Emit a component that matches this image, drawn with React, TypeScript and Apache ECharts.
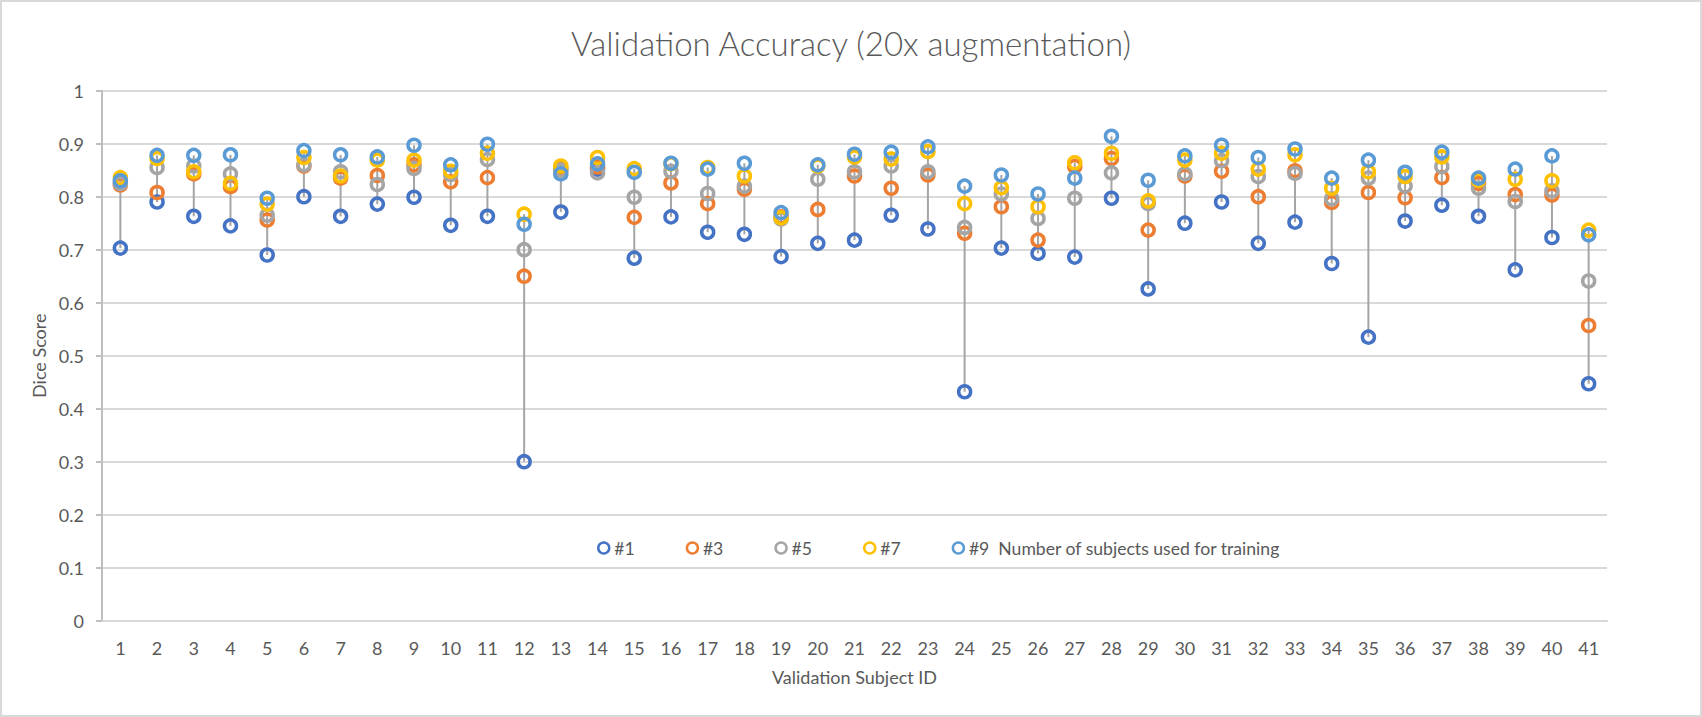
import React, { useEffect, useRef } from "react";
import * as echarts from "echarts";

const categories: string[] = Array.from({ length: 41 }, (_, i) => String(i + 1));

const seriesNames = ["#1", "#3", "#5", "#7", "#9"];
const seriesColors = ["#4472C4", "#ED7D31", "#A5A5A5", "#FFC000", "#5B9BD5"];

const s1 = [0.703, 0.790, 0.763, 0.745, 0.690, 0.800, 0.763, 0.786, 0.799, 0.746,
  0.763, 0.300, 0.771, 0.852, 0.684, 0.762, 0.733, 0.729, 0.687, 0.712,
  0.718, 0.765, 0.739, 0.432, 0.703, 0.693, 0.686, 0.797, 0.626, 0.750,
  0.790, 0.712, 0.752, 0.674, 0.535, 0.754, 0.784, 0.763, 0.662, 0.723, 0.447];
const s3 = [0.822, 0.808, 0.843, 0.819, 0.756, 0.858, 0.835, 0.840, 0.860, 0.828,
  0.836, 0.650, 0.853, 0.856, 0.761, 0.826, 0.787, 0.814, 0.762, 0.776,
  0.839, 0.816, 0.841, 0.731, 0.781, 0.718, 0.857, 0.872, 0.737, 0.839,
  0.848, 0.800, 0.849, 0.789, 0.808, 0.798, 0.836, 0.825, 0.804, 0.803, 0.557];
const s5 = [0.825, 0.855, 0.858, 0.843, 0.765, 0.860, 0.847, 0.823, 0.853, 0.842,
  0.870, 0.700, 0.850, 0.845, 0.799, 0.848, 0.806, 0.820, 0.758, 0.833,
  0.847, 0.858, 0.847, 0.742, 0.805, 0.759, 0.797, 0.845, 0.787, 0.843,
  0.868, 0.838, 0.844, 0.796, 0.835, 0.820, 0.857, 0.816, 0.791, 0.811, 0.641];
const s7 = [0.836, 0.872, 0.847, 0.825, 0.786, 0.874, 0.839, 0.869, 0.869, 0.848,
  0.882, 0.767, 0.858, 0.874, 0.853, 0.862, 0.855, 0.839, 0.760, 0.858,
  0.875, 0.871, 0.885, 0.787, 0.817, 0.781, 0.864, 0.882, 0.792, 0.869,
  0.882, 0.852, 0.879, 0.816, 0.847, 0.838, 0.875, 0.831, 0.833, 0.830, 0.737];
const s9 = [0.830, 0.878, 0.878, 0.879, 0.797, 0.887, 0.879, 0.875, 0.897, 0.860,
  0.899, 0.748, 0.843, 0.862, 0.846, 0.863, 0.852, 0.863, 0.770, 0.860,
  0.880, 0.884, 0.894, 0.820, 0.841, 0.805, 0.835, 0.914, 0.831, 0.877,
  0.897, 0.874, 0.890, 0.835, 0.869, 0.846, 0.884, 0.835, 0.852, 0.877, 0.728];

const allSeries = [s1, s3, s5, s7, s9];

const titleText = "Validation Accuracy (20x augmentation)";
const xAxisTitle = "Validation Subject ID";
const yAxisTitle = "Dice Score";
const legendNote = "Number of subjects used for training";

const FONT = "Lato, 'Open Sans', sans-serif";
const TEXT_COLOR = "#595959";

export default function App() {
  const ref = useRef<HTMLDivElement>(null);

  useEffect(() => {
    document.body.style.margin = "0";
    if (!ref.current) return;
    const chart = echarts.init(ref.current, undefined, { renderer: "svg" });

    const hiLo = categories.map((_, i) => {
      const vals = allSeries.map((s) => s[i]);
      return [i, Math.min(...vals), Math.max(...vals)];
    });

    const option: any = {
      animation: false,
      backgroundColor: "#ffffff",
      textStyle: { fontFamily: FONT },
      title: {
        text: titleText,
        left: "center",
        top: 19,
        textStyle: {
          fontFamily: FONT,
          fontSize: 33,
          fontWeight: 300,
          color: TEXT_COLOR,
        },
      },
      legend: {
        data: seriesNames,
        left: 590,
        top: 532,
        itemWidth: 11,
        itemHeight: 11,
        itemGap: 51,
        icon: "circle",
        itemStyle: { borderWidth: 2.5 },
        formatter: (name: string) => (name === "#9" ? name + "  " + legendNote : name),
        textStyle: { fontFamily: FONT, fontSize: 17.6, color: TEXT_COLOR },
      },
      grid: { left: 100, right: 93, top: 88.7, bottom: 94.3, containLabel: false },
      xAxis: {
        type: "category",
        data: categories,
        boundaryGap: true,
        name: xAxisTitle,
        nameLocation: "middle",
        nameGap: 47,
        nameTextStyle: { fontFamily: FONT, fontSize: 18, color: TEXT_COLOR },
        axisLine: { show: true, lineStyle: { color: "#d9d9d9", width: 2 } },
        axisTick: { show: false },
        axisLabel: { color: TEXT_COLOR, fontFamily: FONT, fontSize: 18, margin: 18, interval: 0 },
        splitLine: { show: false },
      },
      yAxis: {
        type: "value",
        min: 0,
        max: 1,
        interval: 0.1,
        name: yAxisTitle,
        nameLocation: "middle",
        nameGap: 49,
        nameRotate: 90,
        nameTextStyle: { fontFamily: FONT, fontSize: 18, color: TEXT_COLOR },
        axisLine: { show: true, lineStyle: { color: "#bfbfbf", width: 2 } },
        axisTick: { show: true, length: 6, lineStyle: { color: "#bfbfbf", width: 2 } },
        axisLabel: { color: TEXT_COLOR, fontFamily: FONT, fontSize: 18, margin: 18 },
        splitLine: { show: true, lineStyle: { color: "#d9d9d9", width: 2 } },
      },
      series: [
        {
          type: "custom",
          name: "hilo",
          z: 1,
          silent: true,
          data: hiLo,
          encode: { x: 0, y: [1, 2] },
          renderItem: (params: any, api: any) => {
            const idx = api.value(0);
            const lo = api.coord([idx, api.value(1)]);
            const hi = api.coord([idx, api.value(2)]);
            return {
              type: "line",
              shape: { x1: lo[0], y1: lo[1], x2: hi[0], y2: hi[1] },
              style: { stroke: "#a5a5a5", lineWidth: 2 },
            };
          },
        },
        ...seriesNames.map((name, k) => ({
          type: "scatter",
          name,
          z: 2,
          symbol: "circle",
          symbolSize: 12,
          data: allSeries[k],
          itemStyle: {
            color: "rgba(255,255,255,0)",
            borderColor: seriesColors[k],
            borderWidth: 3.5,
            opacity: 1,
          },
        })),
      ],
    };

    chart.setOption(option);
    return () => chart.dispose();
  }, []);

  return (
    <div
      style={{
        position: "absolute",
        left: 0,
        top: 0,
        width: 1702,
        height: 717,
        boxSizing: "border-box",
        border: "2px solid #d9d9d9",
        background: "#fff",
      }}
    >
      <div ref={ref} style={{ width: 1698, height: 713 }} />
    </div>
  );
}
